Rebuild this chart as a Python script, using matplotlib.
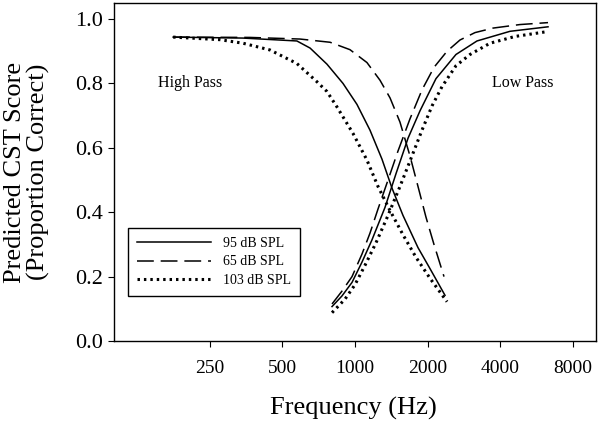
import matplotlib
matplotlib.use("Agg")
import matplotlib.pyplot as plt
from matplotlib.ticker import NullLocator

plt.rcParams['font.family'] = ['Liberation Serif', 'DejaVu Serif']

# high pass curves (score vs cutoff frequency)
hp95_hz = [176, 343, 574, 651, 765, 892, 1019, 1154, 1294, 1424, 1582, 1826, 2047, 2363]
hp95 = [0.944, 0.941, 0.932, 0.910, 0.860, 0.800, 0.735, 0.655, 0.565, 0.475, 0.390, 0.290, 0.225, 0.142]

hp65_hz = [176, 367, 591, 788, 953, 1121, 1270, 1398, 1537, 1691, 1826, 1970, 2127, 2341]
hp65 = [0.944, 0.943, 0.938, 0.928, 0.905, 0.865, 0.810, 0.755, 0.680, 0.575, 0.480, 0.385, 0.300, 0.200]

hp103_hz = [176, 275, 343, 444, 574, 696, 765, 842, 981, 1121, 1246, 1398, 1582, 1791, 2047, 2409]
hp103 = [0.944, 0.936, 0.925, 0.904, 0.862, 0.805, 0.775, 0.727, 0.645, 0.562, 0.480, 0.405, 0.330, 0.260, 0.195, 0.122]

# low pass curves
lp95_hz = [803, 883, 972, 1069, 1176, 1332, 1480, 1660, 1861, 2168, 2624, 3208, 4397, 6324]
lp95 = [0.107, 0.140, 0.182, 0.245, 0.314, 0.415, 0.520, 0.630, 0.715, 0.815, 0.890, 0.932, 0.962, 0.976]

lp65_hz = [803, 883, 972, 1069, 1154, 1246, 1371, 1508, 1691, 1897, 2127, 2409, 2727, 3148, 3738, 4837, 6324]
lp65 = [0.115, 0.155, 0.200, 0.270, 0.335, 0.410, 0.500, 0.590, 0.690, 0.780, 0.850, 0.900, 0.935, 0.958, 0.972, 0.983, 0.989]

lp103_hz = [803, 909, 1000, 1100, 1222, 1371, 1537, 1724, 1897, 2087, 2296, 2624, 3001, 3633, 4613, 6264]
lp103 = [0.088, 0.130, 0.175, 0.235, 0.305, 0.390, 0.480, 0.575, 0.655, 0.730, 0.790, 0.855, 0.890, 0.925, 0.946, 0.961]

xticks = [250, 500, 1000, 2000, 4000, 8000]
xtick_labels = ['250', '500', '1000', '2000', '4000', '8000']
yticks = [0.0, 0.2, 0.4, 0.6, 0.8, 1.0]

fig = plt.figure(figsize=(6, 4.26), dpi=100)
ax = fig.add_axes([0.19, 0.1995, 0.8033, 0.7935])

solid = dict(color='black', lw=1.1, linestyle='-')
dashed = dict(color='black', lw=1.1, linestyle=(0, (11, 4.5)))
dotted = dict(color='black', lw=2.2, linestyle=(0, (0.8, 1.3)))

ax.plot(hp95_hz, hp95, label='95 dB SPL', **solid)
ax.plot(hp65_hz, hp65, label='65 dB SPL', **dashed)
ax.plot(hp103_hz, hp103, label='103 dB SPL', **dotted)
ax.plot(lp95_hz, lp95, **solid)
ax.plot(lp65_hz, lp65, **dashed)
ax.plot(lp103_hz, lp103, **dotted)

ax.set_xscale('log')
ax.set_xlim(100, 10000)
ax.set_ylim(0, 1.05)
ax.set_xticks(xticks)
ax.set_xticklabels(xtick_labels)
ax.xaxis.set_minor_locator(NullLocator())
ax.set_yticks(yticks)
ax.set_yticklabels(['%.1f' % v for v in yticks])
ax.tick_params(axis='x', direction='out', length=4, width=0.8, labelsize=14, pad=10)
ax.tick_params(axis='y', direction='out', length=4, width=0.8, labelsize=16, pad=4)
for s in ax.spines.values():
    s.set_linewidth(1.0)

ax.text(152, 0.80, 'High Pass', fontsize=11.5, va='center', ha='left')
ax.text(3700, 0.80, 'Low Pass', fontsize=11.5, va='center', ha='left')

ax.set_xlabel('Frequency (Hz)', fontsize=19)
ax.set_ylabel('Predicted CST Score\n(Proportion Correct)', fontsize=19, linespacing=1.05)
ax.xaxis.label.set_va('center')
ax.xaxis.set_label_coords(0.497, -0.2)
ax.yaxis.label.set_va('center')
ax.yaxis.set_label_coords(-0.18, 0.5)

leg = ax.legend(loc='lower left', bbox_to_anchor=(0.029, 0.133), borderaxespad=0,
                fontsize=10, handlelength=5.3, handletextpad=0.9, fancybox=False,
                edgecolor='black', framealpha=1, borderpad=0.65, labelspacing=0.4)
leg.get_frame().set_linewidth(1.0)

fig.savefig('out.png', dpi=100)
